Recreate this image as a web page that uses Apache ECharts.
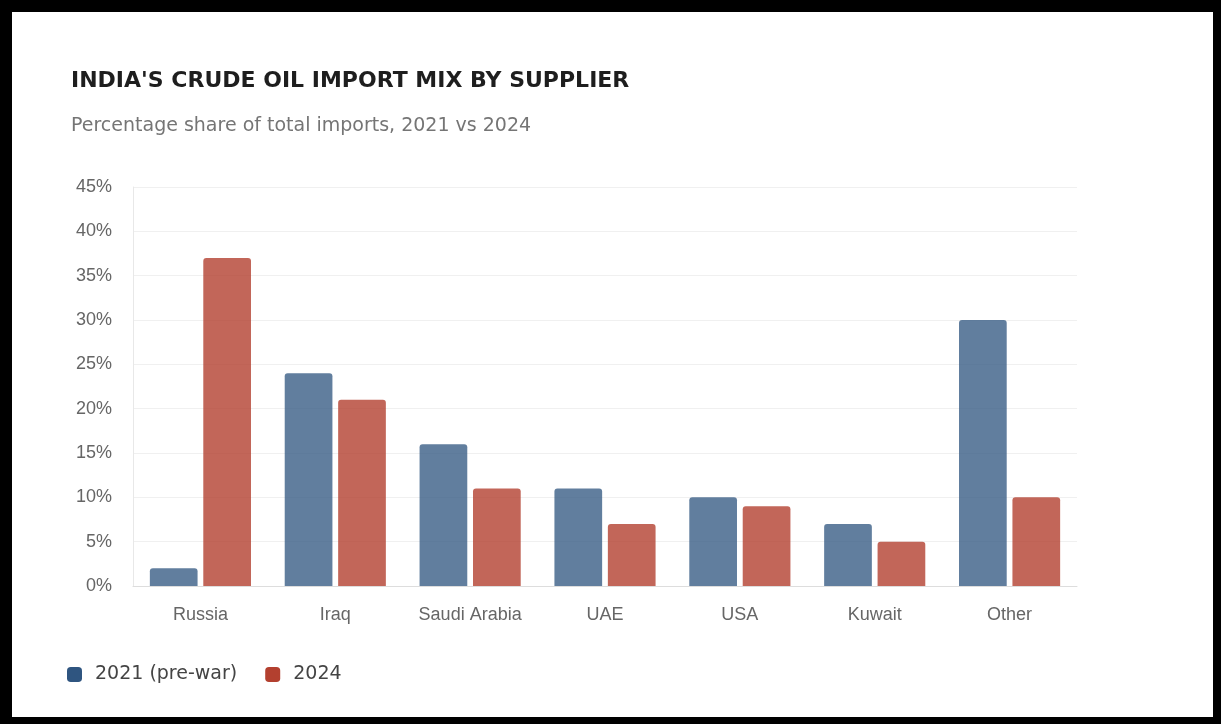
<!DOCTYPE html>
<html>
<head>
<meta charset="utf-8">
<script src="https://cdn.jsdelivr.net/npm/echarts@6/dist/echarts.min.js"></script>
<style>
  html, body { margin: 0; padding: 0; background: #000; }
  #frame { position: absolute; left: 12px; top: 12px; width: 1201px; height: 705px; background: #fff; }
  #chart { position: absolute; left: 0; top: 0; width: 1221px; height: 724px; }
</style>
</head>
<body>
<div id="frame"></div>
<div id="chart"></div>
<script>
// suppliers and share of imports (%)
var suppliers = ['Russia', 'Iraq', 'Saudi Arabia', 'UAE', 'USA', 'Kuwait', 'Other'];
var share2021 = [2, 24, 16, 11, 10, 7, 30];
var share2024 = [37, 21, 11, 7, 9, 5, 10];
var seriesNames = ['2021 (pre-war)', '2024'];

var chart = echarts.init(document.getElementById('chart'));
var option = {
  backgroundColor: 'transparent',
  title: [
    {
      text: "INDIA'S CRUDE OIL IMPORT MIX BY SUPPLIER",
      left: 66, top: 65,
      textStyle: { fontFamily: 'DejaVu Sans', fontWeight: 'bold', fontSize: 22, color: '#1e1e1e' }
    },
    {
      text: 'Percentage share of total imports, 2021 vs 2024',
      left: 66, top: 112,
      textStyle: { fontFamily: 'DejaVu Sans', fontWeight: 'normal', fontSize: 19, color: '#757575' }
    }
  ],
  legend: {
    data: seriesNames,
    left: 62, top: 660,
    itemWidth: 15, itemHeight: 15, itemGap: 28,
    icon: 'roundRect',
    itemStyle: { opacity: 1 },
    textStyle: { fontFamily: 'DejaVu Sans', fontSize: 19, color: '#444', padding: [0, 0, 0, 8] }
  },
  grid: { left: 133, top: 187, right: 144, bottom: 138 },
  xAxis: {
    type: 'category',
    data: suppliers,
    axisLine: { lineStyle: { color: '#ddd' } },
    axisTick: { show: false },
    axisLabel: { fontFamily: 'Liberation Sans', fontSize: 18, color: '#666', margin: 20 }
  },
  yAxis: {
    type: 'value',
    min: 0, max: 45, interval: 5,
    axisLine: { show: true, lineStyle: { color: '#e8e8e8' } },
    axisTick: { show: false },
    splitLine: { lineStyle: { color: '#f0f0f0' } },
    axisLabel: { formatter: '{value}%', fontFamily: 'Liberation Sans', fontSize: 18, color: '#666', margin: 21 }
  },
  series: [
    {
      name: seriesNames[0], type: 'bar', data: share2021,
      barCategoryGap: '25%', barGap: '12%',
      itemStyle: { color: '#2f5580', opacity: 0.76, borderRadius: [3, 3, 0, 0] }
    },
    {
      name: seriesNames[1], type: 'bar', data: share2024,
      itemStyle: { color: '#b3402f', opacity: 0.8, borderRadius: [3, 3, 0, 0] }
    }
  ]
};
chart.setOption(option);
</script>
</body>
</html>
